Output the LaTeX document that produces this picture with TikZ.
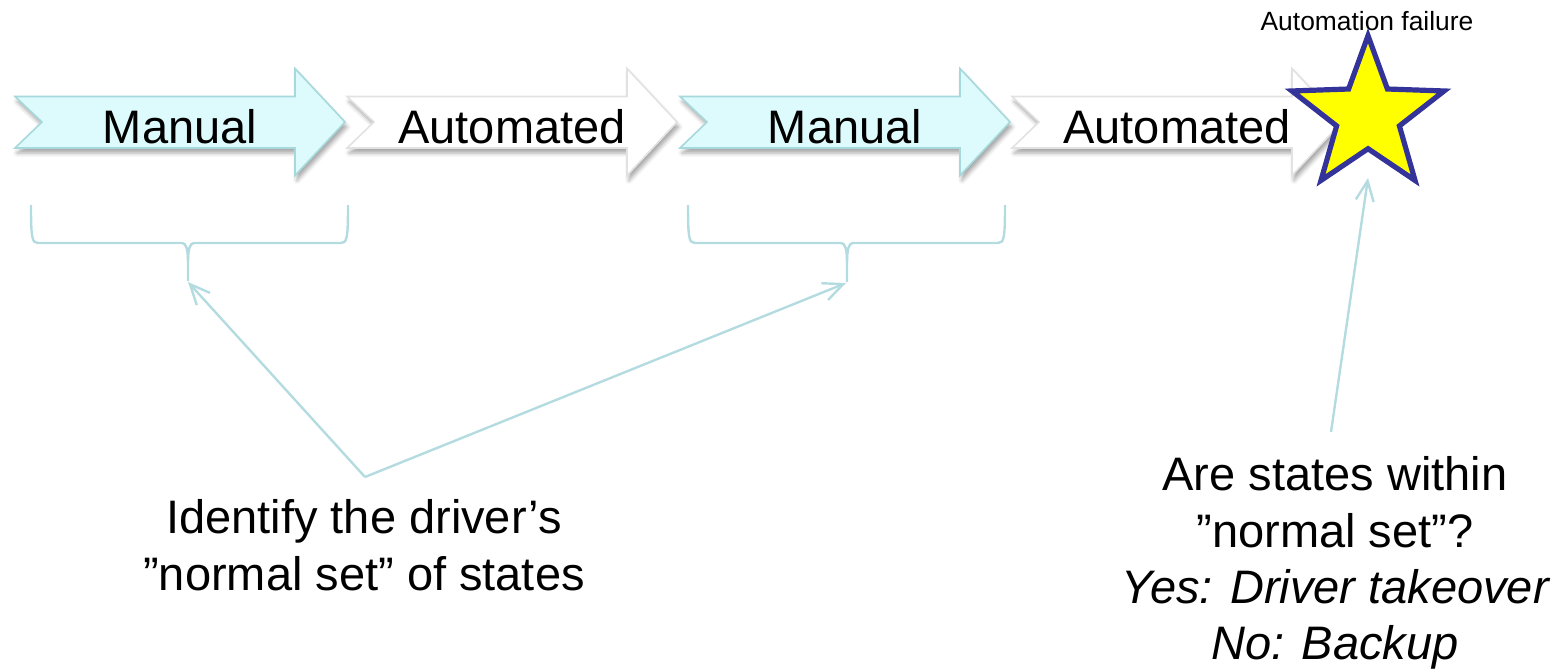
\documentclass[tikz,border=0pt]{standalone}
\usepackage{fontspec}
\setmainfont{Liberation Sans}
\usetikzlibrary{arrows.meta,calc,shadows.blur}
\definecolor{conn}{HTML}{B4DCE0}
\definecolor{mfill}{HTML}{DDFBFD}
\definecolor{mdraw}{HTML}{A6D8DC}
\definecolor{adraw}{HTML}{E2E2E2}
\definecolor{starblue}{HTML}{333399}
\definecolor{staryel}{HTML}{FFFF00}
\newcommand\chevshape[1]{(#1,96.5) -- ({#1+280},96.5) -- ({#1+280},68.5) -- ({#1+330},122) -- ({#1+280},175.5) -- ({#1+280},148) -- (#1,148) -- ({#1+27},122) -- cycle}
\begin{document}
\begin{tikzpicture}[x=0.5pt,y=-0.5pt,
  shad/.style={blur shadow={shadow xshift=1pt,shadow yshift=-2.5pt,shadow blur radius=2pt,shadow opacity=35}},
  manualarrow/.style={fill=mfill,draw=mdraw,line width=0.8pt,shad},
  autoarrow/.style={fill=white,draw=adraw,line width=0.8pt,shad},
  big/.style={font=\fontsize{23.5pt}{28pt}\selectfont,inner sep=0pt,anchor=base},
  bigit/.style={big,font=\fontsize{23.5pt}{28pt}\selectfont\itshape},
  small/.style={font=\fontsize{13.2pt}{16pt}\selectfont,inner sep=0pt,anchor=base},
  bracestyle/.style={draw=conn,line width=1.2pt},
  connector/.style={draw=conn,line width=1.2pt,-{Straight Barb[length=10pt,width=9pt]}},
  starstyle/.style={fill=staryel,draw=starblue,line width=2.6pt,line join=miter}]
\useasboundingbox (0,0) rectangle (1568,670);

% process arrows
\path[manualarrow] \chevshape{15};
\path[autoarrow] \chevshape{347};
\path[manualarrow] \chevshape{680};
\path[autoarrow] \chevshape{1012};

\node[big] (m1) at (180,143) {Manual};
\node[big] (a1) at (512,143) {Automated};
\node[big] (m2) at (845,143) {Manual};
\node[big] (a2) at (1177,143) {Automated};

% star
\coordinate (sc) at (1368,115.7);
\draw[starstyle] ($(sc)+(-90:80)$) \foreach \a in {1,...,9}{ -- ($(sc)+({-90+36*\a}:{80-47*mod(\a,2)})$)} -- cycle;
\node[small] (fail) at (1367,30) {Automation failure};

% braces
\draw[bracestyle] (31,205) .. controls (31,238) and (32,243) .. (38,243) -- (182,243) .. controls (186,243) and (188,249) .. (188,262) -- (188,281);
\draw[bracestyle] (188,262) .. controls (188,249) and (190,243) .. (194,243) -- (341,243) .. controls (347,243) and (348,238) .. (348,205);
\draw[bracestyle] (688,205) .. controls (688,238) and (689,243) .. (695,243) -- (841,243) .. controls (845,243) and (847,249) .. (847,262) -- (847,282);
\draw[bracestyle] (847,262) .. controls (847,249) and (849,243) .. (853,243) -- (998,243) .. controls (1004,243) and (1005,238) .. (1005,205);

\coordinate (b1tip) at (188,282);
\coordinate (b2tip) at (846,283);
\coordinate (lsrc) at (365,477);
\coordinate (rsrc) at (1331,432);
\coordinate (failtip) at (1368,178);

% texts
\node[big] (l1) at (364,533) {Identify the driver’s};
\node[big] (l2) at (364,590) {”normal set” of states};
\node[big] (r1) at (1335,490) {Are states within};
\node[big] (r2) at (1335,547) {”normal set”?};
\node[bigit] (r3) at (1335,603) {Yes: Driver takeover};
\node[bigit] (r4) at (1335,659) {No: Backup};

% connectors
\draw[connector] (lsrc) -- (b1tip);
\draw[connector] (lsrc) -- (b2tip);
\draw[connector] (rsrc) -- (failtip);
\end{tikzpicture}
\end{document}
